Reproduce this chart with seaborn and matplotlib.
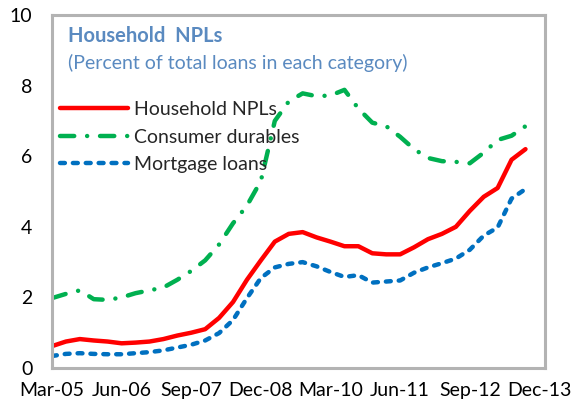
import numpy as np
import pandas as pd
import matplotlib
matplotlib.use("Agg")
import matplotlib.pyplot as plt
import seaborn as sns

# Quarterly data, Mar-05 .. Sep-13 (percent of total loans in each category)
quarters = pd.period_range("2005Q1", "2013Q3", freq="Q")
household = [0.62, 0.75, 0.82, 0.78, 0.75, 0.70, 0.72, 0.75, 0.82, 0.92,
             1.00, 1.10, 1.42, 1.87, 2.50, 3.05, 3.58, 3.80, 3.85, 3.70,
             3.58, 3.45, 3.45, 3.25, 3.22, 3.22, 3.42, 3.65, 3.80, 4.00,
             4.45, 4.85, 5.10, 5.90, 6.20]
consumer = [1.98, 2.10, 2.20, 1.95, 1.93, 2.00, 2.12, 2.20, 2.28, 2.50,
            2.75, 3.05, 3.50, 4.10, 4.60, 5.30, 7.00, 7.55, 7.78, 7.70,
            7.72, 7.88, 7.35, 6.95, 6.85, 6.55, 6.20, 5.95, 5.86, 5.84,
            5.80, 6.10, 6.46, 6.58, 6.85]
mortgage = [0.34, 0.40, 0.42, 0.40, 0.39, 0.39, 0.42, 0.45, 0.50, 0.58,
            0.66, 0.78, 0.99, 1.36, 1.98, 2.55, 2.85, 2.95, 3.00, 2.88,
            2.72, 2.58, 2.63, 2.42, 2.45, 2.48, 2.70, 2.85, 2.97, 3.10,
            3.35, 3.75, 3.98, 4.80, 5.07]
tick_labels = ["Mar-05", "Jun-06", "Sep-07", "Dec-08", "Mar-10", "Jun-11", "Sep-12", "Dec-13"]

df = pd.DataFrame({
    "q": np.arange(len(quarters)),
    "Household NPLs": household,
    "Consumer durables": consumer,
    "Mortgage loans": mortgage,
})

sns.set_style("white")
plt.rcParams["font.family"] = ["Lato", "DejaVu Sans"]

fig = plt.figure(figsize=(5.82, 4.09), dpi=100)
ax = fig.add_axes([0.0893, 0.1002, 0.8471, 0.8631])

sns.lineplot(data=df, x="q", y="Household NPLs", ax=ax, color="#FF0000",
             linewidth=3.2, label="Household NPLs")
sns.lineplot(data=df, x="q", y="Consumer durables", ax=ax, color="#00B050",
             linewidth=3.2, label="Consumer durables",
             linestyle=(0, (3.2, 2.9, 0.01, 2.9)), dash_capstyle="round")
sns.lineplot(data=df, x="q", y="Mortgage loans", ax=ax, color="#0070C0",
             linewidth=3.2, label="Mortgage loans",
             linestyle=(0, (1.1, 1.8)), dash_capstyle="round")

ax.set_xlim(0, 35.4)
ax.set_ylim(0, 10)
ax.set_xticks(np.arange(0, 36, 5))
ax.set_xticklabels(tick_labels)
ax.set_yticks(np.arange(0, 11, 2))
ax.set_xlabel("")
ax.set_ylabel("")
ax.tick_params(axis="both", direction="in", length=5, width=2, color="#B3B3B3",
               labelsize=14, labelcolor="black")
ax.tick_params(axis="x", pad=10)
ax.tick_params(axis="y", pad=14)
for sp in ax.spines.values():
    sp.set_visible(True)
    sp.set_color("#B3B3B3")
    sp.set_linewidth(2.2)

ax.text(0.032, 0.94, "Household  NPLs", transform=ax.transAxes, fontsize=14.5,
        fontweight="bold", color="#5A8AC0", va="center", ha="left")
ax.text(0.032, 0.865, "(Percent of total loans in each category)", transform=ax.transAxes,
        fontsize=14, color="#5A8AC0", va="center", ha="left")

ax.legend(loc="upper left", bbox_to_anchor=(0.016, 0.756), frameon=False, fontsize=14,
          handlelength=3.5, handletextpad=0.3, labelspacing=0.54, borderpad=0,
          borderaxespad=0)

fig.savefig("out.png", dpi=100)
